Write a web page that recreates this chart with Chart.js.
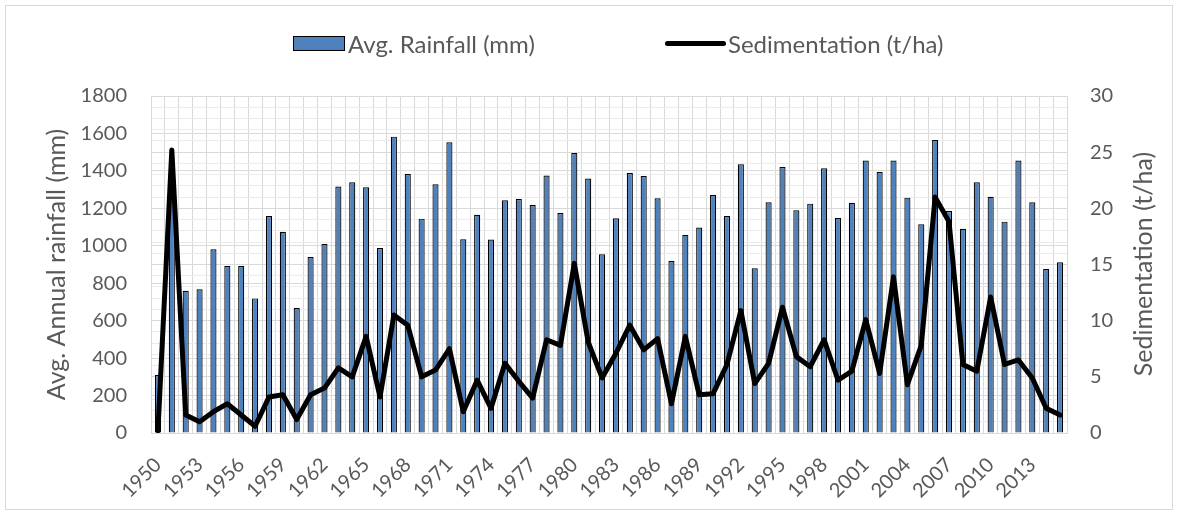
<!DOCTYPE html>
<html>
<head>
<meta charset="utf-8">
<script src="https://cdn.jsdelivr.net/npm/chart.js@4.4.1/dist/chart.umd.min.js"></script>
<style>
  html, body { margin: 0; padding: 0; background: #ffffff; }
  #wrap { position: relative; width: 1179px; height: 516px; overflow: hidden; }
  #chart { position: absolute; left: 0; top: 0; }
  #frame {
    position: absolute; left: 5px; top: 5px; width: 1168px; height: 505px;
    border: 1px solid #d9d9d9; box-sizing: border-box; pointer-events: none;
  }
  .lg-text {
    position: absolute; top: 30px; height: 28px; line-height: 28px;
    font-family: Lato, "Open Sans", sans-serif; font-size: 24px; color: #595959; white-space: nowrap;
  }
  .lg-box {
    position: absolute; left: 293px; top: 36px; width: 52px; height: 15px;
    background: #4f81bd; border: 1px solid #000; box-sizing: border-box;
  }
  .lg-line {
    position: absolute; left: 665px; top: 41px; width: 61px; height: 5px;
    background: #000; border-radius: 2.5px;
  }
  #y2title {
    position: absolute; left: 1142px; top: 264px; width: 0; height: 0;
  }
  #y2title span {
    position: absolute; left: 0; top: 0; white-space: nowrap;
    font-family: Lato, "Open Sans", sans-serif; font-size: 25px; line-height: 30px; color: #595959;
    transform: translate(-50%, -50%) rotate(-90deg);
  }
</style>
</head>
<body>
<div id="wrap">
  <canvas id="chart" width="1179" height="516"></canvas>
  <div id="frame"></div>
  <div class="lg-box"></div>
  <div class="lg-text" style="left:348px;">Avg. Rainfall (mm)</div>
  <div class="lg-line"></div>
  <div class="lg-text" style="left:728px;">Sedimentation (t/ha)</div>
  <div id="y2title"><span>Sedimentation (t/ha)</span></div>
</div>
<script>
// Years of record
const years = [
  '1950','1951','1952','1953','1954','1955','1956','1957','1958','1959',
  '1960','1961','1962','1963','1964','1965','1966','1967','1968','1969',
  '1970','1971','1972','1973','1974','1975','1976','1977','1978','1979',
  '1980','1981','1982','1983','1984','1985','1986','1987','1988','1989',
  '1990','1991','1992','1993','1994','1995','1996','1997','1998','1999',
  '2000','2001','2002','2003','2004','2005','2006','2007','2008','2009',
  '2010','2011','2012','2013','2014','2015'
];

// Average annual rainfall (mm)
const rainfall = [
  310, 1300, 760, 768, 981, 892, 892, 719, 1159, 1075,
  668, 940, 1010, 1316, 1339, 1312, 988, 1583, 1383, 1145,
  1328, 1553, 1035, 1166, 1033, 1243, 1250, 1218, 1375, 1175,
  1496, 1359, 955, 1147, 1389, 1373, 1254, 919, 1058, 1097,
  1271, 1159, 1435, 880, 1232, 1421, 1190, 1225, 1414, 1148,
  1230, 1455, 1394, 1455, 1257, 1115, 1565, 1186, 1091, 1339,
  1262, 1129, 1455, 1232, 876, 912
];

// Sedimentation (t/ha)
const sedimentation = [
  0.2, 25.2, 1.6, 1.0, 1.9, 2.6, 1.6, 0.6, 3.2, 3.4,
  1.2, 3.4, 4.0, 5.8, 5.0, 8.6, 3.2, 10.5, 9.6, 5.0,
  5.6, 7.5, 1.9, 4.7, 2.2, 6.2, 4.6, 3.1, 8.3, 7.8,
  15.1, 8.1, 4.9, 7.1, 9.6, 7.4, 8.4, 2.6, 8.6, 3.4,
  3.5, 6.1, 10.9, 4.4, 6.2, 11.2, 6.8, 5.9, 8.3, 4.7,
  5.5, 10.1, 5.3, 13.9, 4.3, 7.8, 21.0, 18.8, 6.1, 5.5,
  12.1, 6.1, 6.5, 4.9, 2.2, 1.6
];

// Year labels printed under the axis
const xTickLabels = [
  '1950','1953','1956','1959','1962','1965','1968','1971','1974','1977','1980',
  '1983','1986','1989','1992','1995','1998','2001','2004','2007','2010','2013'
];

// Labelled values on the two value axes
const rainTicks = [0, 200, 400, 600, 800, 1000, 1200, 1400, 1600, 1800];
const sedTicks = [0, 5, 10, 15, 20, 25, 30];

const textColor = '#595959';
const gridColor = '#d9d9d9';
const minorGrid = '#ebebeb';
const fontFamily = 'Lato, "Open Sans", sans-serif';

new Chart(document.getElementById('chart'), {
  data: {
    labels: years,
    datasets: [
      {
        type: 'line',
        label: 'Sedimentation (t/ha)',
        data: sedimentation,
        yAxisID: 'y2',
        borderColor: '#000000',
        borderWidth: 5,
        borderJoinStyle: 'round',
        borderCapStyle: 'round',
        pointRadius: 0,
        pointHoverRadius: 0,
        tension: 0,
        fill: false,
        order: 0
      },
      {
        type: 'bar',
        label: 'Avg. Rainfall (mm)',
        data: rainfall,
        yAxisID: 'y',
        backgroundColor: '#4f81bd',
        borderColor: '#000000',
        borderWidth: 1.2,
        barPercentage: 0.44,
        categoryPercentage: 1.0,
        order: 1
      }
    ]
  },
  options: {
    responsive: false,
    devicePixelRatio: 1,
    animation: false,
    layout: { padding: { top: 96, left: 0, right: 0, bottom: 0 } },
    plugins: {
      legend: { display: false },
      tooltip: { enabled: false }
    },
    scales: {
      x: {
        offset: true,
        grid: { color: gridColor, drawTicks: false, offset: true },
        border: { color: gridColor },
        ticks: {
          autoSkip: false,
          maxRotation: 45,
          minRotation: 45,
          padding: 20,
          color: textColor,
          font: { family: fontFamily, size: 20 },
          callback: function (value, index) {
            const y = years[index];
            return xTickLabels.includes(y) ? y : '';
          }
        },
        afterFit: function (scale) { scale.height = 83; }
      },
      y: {
        position: 'left',
        min: rainTicks[0],
        max: rainTicks[rainTicks.length - 1],
        grid: { color: gridColor, drawTicks: false },
        border: { color: gridColor },
        ticks: {
          stepSize: rainTicks[1] - rainTicks[0],
          autoSkip: false,
          padding: 24,
          color: textColor,
          font: { family: fontFamily, size: 20 },
          callback: function (value) { return String(value); }
        },
        title: {
          display: true,
          text: 'Avg. Annual rainfall (mm)',
          color: textColor,
          font: { family: fontFamily, size: 25 },
          padding: { top: 42, bottom: 0 }
        },
        afterFit: function (scale) { scale.width = 151; }
      },
      y2: {
        position: 'right',
        min: sedTicks[0],
        max: sedTicks[sedTicks.length - 1],
        grid: {
          drawTicks: false,
          color: function (ctx) {
            return sedTicks.includes(ctx.tick.value) ? gridColor : minorGrid;
          }
        },
        border: { color: gridColor },
        ticks: {
          stepSize: 1,
          maxTicksLimit: 31,
          autoSkip: false,
          padding: 23,
          color: textColor,
          font: { family: fontFamily, size: 20 },
          callback: function (value) {
            return sedTicks.includes(value) ? String(value) : '';
          }
        },
        afterFit: function (scale) { scale.width = 112; }
      }
    }
  }
});
</script>
</body>
</html>
